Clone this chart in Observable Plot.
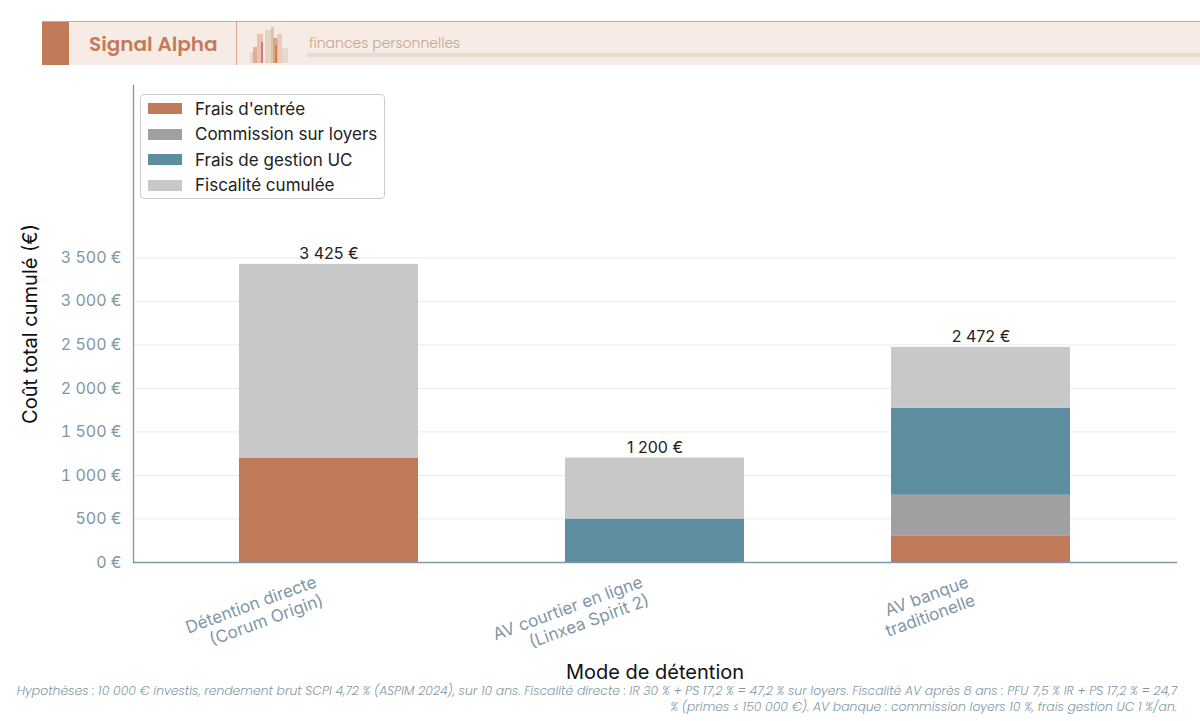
<!DOCTYPE html>
<html lang="fr">
<head>
<meta charset="utf-8">
<script src="https://cdn.jsdelivr.net/npm/d3@7"></script>
<script src="https://cdn.jsdelivr.net/npm/@observablehq/plot@0.6"></script>
<style>
  html, body { margin: 0; padding: 0; background: #fff; }
  body { width: 1200px; height: 721px; position: relative; overflow: hidden; font-family: Inter, "Noto Sans", sans-serif; }
  #header { position: absolute; left: 42px; top: 21px; width: 1158px; height: 43px; background: #f7ece5; border-top: 1px solid #d9a58c; }
  #header .sq { position: absolute; left: 0; top: 0; width: 27px; height: 43px; background: #c07a5a; }
  #header .brand { position: absolute; left: 47px; top: 8px; font-family: Poppins, "Open Sans", sans-serif; font-weight: 600; font-size: 20px; line-height: 28px; color: #c47b5b; }
  #header .div { position: absolute; left: 194px; top: 0; width: 1px; height: 43px; background: #d9a58c; }
  #header .icon { position: absolute; left: 207px; top: 3px; }
  #header .tag { position: absolute; left: 267px; top: 11px; font-family: Poppins, Lato, sans-serif; font-size: 14px; line-height: 20px; color: #c4a690; font-weight: 300; }
  #header .bar { position: absolute; left: 265px; top: 31px; width: 893px; height: 4px; background: #eadbd0; }
  #chart { position: absolute; left: 0; top: 66px; }
  #legend { position: absolute; left: 140px; top: 94px; width: 245px; height: 105px; border: 1px solid #cccccc; border-radius: 4px; background: rgba(255,255,255,0.9); box-sizing: border-box; padding-top: 1px; }
  #legend .item { height: 25.5px; display: flex; align-items: center; font-size: 17px; color: #222; }
  #legend .sw { width: 34px; height: 11px; margin-left: 7px; margin-right: 13px; }
  #foot { position: absolute; right: 23px; top: 683px; text-align: right; font-family: Poppins, Lato, sans-serif; font-style: italic; font-weight: 300; font-size: 12.4px; line-height: 16px; color: #7f97a6; white-space: nowrap; }
</style>
</head>
<body>
<div id="header">
  <div class="sq"></div>
  <div class="brand">Signal Alpha</div>
  <div class="div"></div>
  <svg class="icon" width="45" height="40" viewBox="0 0 45 40">
    <rect x="1" y="27" width="7" height="11" fill="#e6d6c8" opacity="0.9"/>
    <rect x="4" y="22" width="4" height="16" fill="#d98f6e" opacity="0.6"/>
    <rect x="8" y="9" width="6" height="29" fill="#e8b7ad" opacity="0.8"/>
    <rect x="12" y="17" width="2" height="21" fill="#c0503a" opacity="0.6"/>
    <rect x="16" y="5" width="7" height="33" fill="#e2d3c0" opacity="0.95"/>
    <rect x="22" y="2" width="3" height="36" fill="#d6c2ab" opacity="0.9"/>
    <rect x="24" y="13" width="5" height="25" fill="#d9a170" opacity="0.9"/>
    <rect x="26" y="20" width="3" height="18" fill="#d07a30" opacity="0.8"/>
    <rect x="28" y="9" width="5" height="29" fill="#e8c0b8" opacity="0.8"/>
    <rect x="33" y="23" width="6" height="15" fill="#e5d8ca" opacity="0.95"/>
  </svg>
  <div class="tag">finances personnelles</div>
  <div class="bar"></div>
</div>
<div id="chart"></div>
<div id="legend"></div>
<div id="foot">Hypothèses : 10 000 € investis, rendement brut SCPI 4,72 % (ASPIM 2024), sur 10 ans. Fiscalité directe : IR 30 % + PS 17,2 % = 47,2 % sur loyers. Fiscalité AV après 8 ans : PFU 7,5 % IR + PS 17,2 % = 24,7<br>% (primes ≤ 150 000 €). AV banque : commission loyers 10 %, frais gestion UC 1 %/an.</div>
<script>
// ---- data ----
const categories = ["Détention directe\n(Corum Origin)", "AV courtier en ligne\n(Linxea Spirit 2)", "AV banque\ntraditionelle"];
const seriesNames = ["Frais d'entrée", "Commission sur loyers", "Frais de gestion UC", "Fiscalité cumulée"];
const fraisEntree = [1200, 0, 300];
const commissionLoyers = [0, 0, 472];
const fraisGestionUC = [0, 500, 1000];
const fiscaliteCumulee = [2225, 700, 700];
const seriesColors = ["#c07a5a", "#a0a0a0", "#5d8ea0", "#c8c8c8"];
const yTicks = [0, 500, 1000, 1500, 2000, 2500, 3000, 3500];

// ---- build table ----
const seriesValues = [fraisEntree, commissionLoyers, fraisGestionUC, fiscaliteCumulee];
const rows = [];
categories.forEach((c, i) => {
  seriesNames.forEach((s, j) => rows.push({cat: c, series: s, value: seriesValues[j][i]}));
});
const totals = categories.map((c, i) => ({cat: c, total: d3.sum(seriesValues, v => v[i])}));
const fmtEuro = n => d3.format(",")(n).replace(/,/g, " ") + " €";

const axisColor = "#7f9aab";
const tickColor = "#7f97a6";

const chart = Plot.plot({
  width: 1200,
  height: 620,
  marginTop: 19,
  marginBottom: 124,
  marginLeft: 133,
  marginRight: 24,
  style: {fontFamily: "Inter, 'Noto Sans', sans-serif", background: "transparent", overflow: "visible"},
  x: {type: "band", domain: categories, paddingInner: 0.45, paddingOuter: 0.32, axis: null},
  y: {domain: [0, 5480], axis: null},
  color: {domain: seriesNames, range: seriesColors},
  marks: [
    Plot.gridY(yTicks.slice(1), {stroke: "#ebebeb", strokeOpacity: 1, strokeWidth: 1}),
    Plot.barY(rows, {x: "cat", y: "value", fill: "series", order: seriesNames}),
    Plot.frame({anchor: "left", stroke: axisColor, strokeWidth: 1.3}),
    Plot.frame({anchor: "bottom", stroke: axisColor, strokeWidth: 1.3}),
    Plot.text(totals, {x: "cat", y: "total", text: d => fmtEuro(d.total), dy: -5, lineAnchor: "bottom", fontSize: 16, fill: "#222"}),
    Plot.axisY(yTicks, {tickFormat: fmtEuro, tickSize: 0, tickPadding: 12, fontSize: 16, color: tickColor, label: null}),
    Plot.text(categories, {x: d => d, frameAnchor: "bottom", rotate: -20, textAnchor: "end", lineAnchor: "top", dx: -16, dy: 11, fontSize: 17, lineHeight: 1.15, fill: tickColor}),
    Plot.text(["Mode de détention"], {frameAnchor: "bottom", dy: 110, textAnchor: "middle", lineAnchor: "middle", fontSize: 20, fill: "#111"}),
    Plot.text(["Coût total cumulé (€)"], {frameAnchor: "left", rotate: -90, dx: -103, textAnchor: "middle", lineAnchor: "middle", fontSize: 20, fill: "#111"})
  ]
});
document.getElementById("chart").appendChild(chart);

// ---- legend ----
const legend = document.getElementById("legend");
seriesNames.forEach((s, j) => {
  const it = document.createElement("div");
  it.className = "item";
  it.innerHTML = `<span class="sw" style="background:${seriesColors[j]}"></span><span>${s}</span>`;
  legend.appendChild(it);
});
</script>
</body>
</html>
